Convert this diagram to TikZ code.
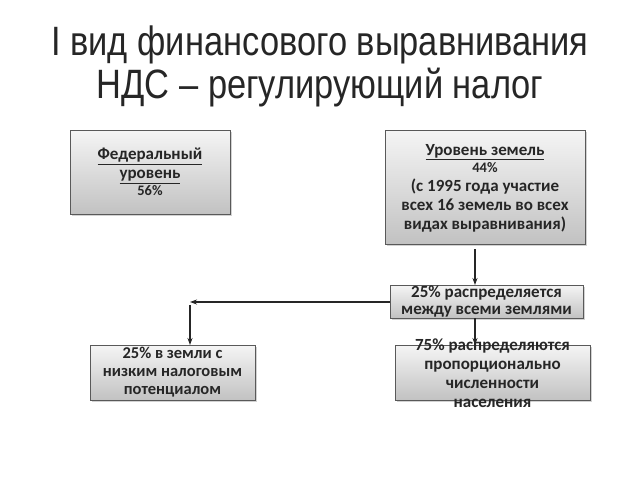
\documentclass[tikz,border=0pt]{standalone}
\usepackage{fontspec}
\setmainfont{Carlito}
\newfontfamily\titlefont[FakeStretch=0.84]{Liberation Sans}
\usetikzlibrary{arrows.meta,shadows}
\begin{document}
\begin{tikzpicture}[x=1pt,y=-1pt,
  box/.style={draw=black!65, line width=0.6pt, top color=black!4, bottom color=black!24,
    drop shadow={shadow xshift=1.5pt,shadow yshift=-1.5pt,fill=black!35}},
  txt/.style={font=\bfseries\fontsize{17}{19}\selectfont, align=center, text=black!85, inner sep=0pt},
  arr/.style={-{Stealth[length=7pt,width=5pt]}, line width=1.1pt, draw=black!85}]
\useasboundingbox (0,0) rectangle (640,480);
\node[font=\titlefont\fontsize{41}{43}\selectfont, align=center, text=black!85] (title) at (320,66)
  {I вид финансового выравнивания\\НДС – регулирующий налог};
\path[box] (70,130) rectangle (230,214);
\node[txt] (fed) at (150,172) {\underline{Федеральный}\\\underline{уровень}\\[-2pt]{\fontsize{14.5}{16}\selectfont 56\%}};
\path[box] (385,130) rectangle (585,244);
\node[txt] (land) at (485,188) {\underline{Уровень земель}\\[-2pt]{\fontsize{14.5}{17}\selectfont 44\%}\\(с 1995 года участие\\всех 16 земель во всех\\видах выравнивания)};
\path[box] (390,285) rectangle (583,318);
\node[txt, font=\bfseries\fontsize{17}{17}\selectfont] (dist) at (486.5,302) {25\% распределяется\\между всеми землями};
\path[box] (90,345) rectangle (255,400);
\node[txt, font=\bfseries\fontsize{16.5}{18}\selectfont] (low) at (172.5,372) {25\% в земли с\\низким налоговым\\потенциалом};
\path[box] (395,345) rectangle (590,400);
\node[txt] (pop) at (492.5,373) {75\% распределяются\\пропорционально\\численности\\населения};
\coordinate (landS) at (475,249);
\coordinate (distN) at (475,285);
\coordinate (distW) at (390,302);
\coordinate (distS) at (475,318);
\coordinate (popN) at (475,345);
\coordinate (corner) at (190,302);
\coordinate (cornerTop) at (190,305);
\coordinate (lowN) at (190,345);
\draw[arr] (landS) -- (distN);
\draw[arr] (distW) -- (corner);
\draw[arr] (cornerTop) -- (lowN);
\draw[arr] (distS) -- (popN);
\end{tikzpicture}
\end{document}
